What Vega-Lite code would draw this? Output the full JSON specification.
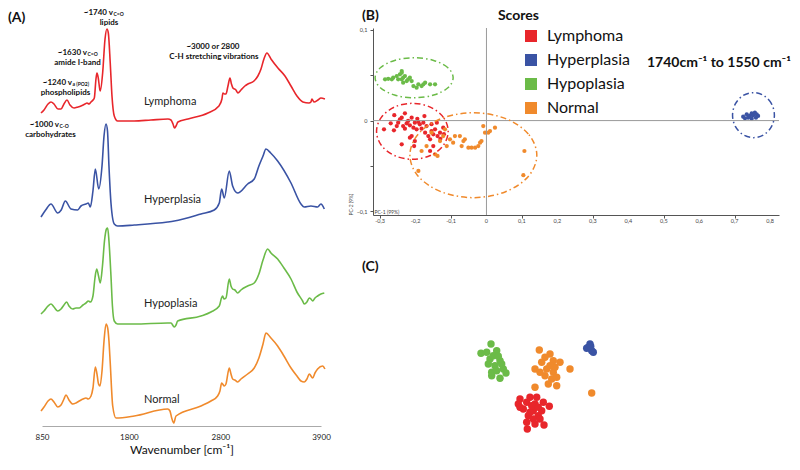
{
  "$schema": "https://vega.github.io/schema/vega-lite/v6.json",
  "padding": {"left": 7, "top": 8, "right": 2, "bottom": 2},
  "background": "white",
  "spacing": 17,
  "resolve": {"scale": {"color": "independent"}, "legend": {"color": "independent"}},
  "datasets": {
    "spectra": [
      {"s":"Lymphoma","wn":839,"a":3.13},{"s":"Lymphoma","wn":872,"a":3.16},{"s":"Lymphoma","wn":916,"a":3.22},{"s":"Lymphoma","wn":948,"a":3.24},{"s":"Lymphoma","wn":981,"a":3.22},{"s":"Lymphoma","wn":1025,"a":3.17},{"s":"Lymphoma","wn":1058,"a":3.17},{"s":"Lymphoma","wn":1090,"a":3.22},{"s":"Lymphoma","wn":1123,"a":3.26},{"s":"Lymphoma","wn":1156,"a":3.21},{"s":"Lymphoma","wn":1200,"a":3.18},{"s":"Lymphoma","wn":1243,"a":3.19},{"s":"Lymphoma","wn":1276,"a":3.20},{"s":"Lymphoma","wn":1320,"a":3.22},{"s":"Lymphoma","wn":1342,"a":3.23},{"s":"Lymphoma","wn":1364,"a":3.22},{"s":"Lymphoma","wn":1386,"a":3.24},{"s":"Lymphoma","wn":1408,"a":3.26},{"s":"Lymphoma","wn":1422,"a":3.28},{"s":"Lymphoma","wn":1440,"a":3.47},{"s":"Lymphoma","wn":1451,"a":3.53},{"s":"Lymphoma","wn":1465,"a":3.48},{"s":"Lymphoma","wn":1481,"a":3.37},{"s":"Lymphoma","wn":1487,"a":3.35},{"s":"Lymphoma","wn":1513,"a":3.53},{"s":"Lymphoma","wn":1539,"a":3.87},{"s":"Lymphoma","wn":1560,"a":3.97},{"s":"Lymphoma","wn":1575,"a":3.93},{"s":"Lymphoma","wn":1596,"a":3.63},{"s":"Lymphoma","wn":1615,"a":3.30},{"s":"Lymphoma","wn":1640,"a":3.10},{"s":"Lymphoma","wn":1677,"a":3.05},{"s":"Lymphoma","wn":1856,"a":3.05},{"s":"Lymphoma","wn":2041,"a":3.06},{"s":"Lymphoma","wn":2227,"a":3.07},{"s":"Lymphoma","wn":2260,"a":3.06},{"s":"Lymphoma","wn":2282,"a":3.02},{"s":"Lymphoma","wn":2298,"a":2.98},{"s":"Lymphoma","wn":2315,"a":3.00},{"s":"Lymphoma","wn":2336,"a":3.04},{"s":"Lymphoma","wn":2446,"a":3.07},{"s":"Lymphoma","wn":2664,"a":3.13},{"s":"Lymphoma","wn":2784,"a":3.20},{"s":"Lymphoma","wn":2817,"a":3.27},{"s":"Lymphoma","wn":2828,"a":3.33},{"s":"Lymphoma","wn":2845,"a":3.32},{"s":"Lymphoma","wn":2861,"a":3.32},{"s":"Lymphoma","wn":2883,"a":3.40},{"s":"Lymphoma","wn":2905,"a":3.48},{"s":"Lymphoma","wn":2921,"a":3.42},{"s":"Lymphoma","wn":2937,"a":3.38},{"s":"Lymphoma","wn":2970,"a":3.36},{"s":"Lymphoma","wn":2992,"a":3.33},{"s":"Lymphoma","wn":3025,"a":3.36},{"s":"Lymphoma","wn":3068,"a":3.40},{"s":"Lymphoma","wn":3101,"a":3.42},{"s":"Lymphoma","wn":3167,"a":3.45},{"s":"Lymphoma","wn":3210,"a":3.50},{"s":"Lymphoma","wn":3244,"a":3.57},{"s":"Lymphoma","wn":3276,"a":3.67},{"s":"Lymphoma","wn":3309,"a":3.73},{"s":"Lymphoma","wn":3353,"a":3.67},{"s":"Lymphoma","wn":3429,"a":3.58},{"s":"Lymphoma","wn":3506,"a":3.50},{"s":"Lymphoma","wn":3572,"a":3.40},{"s":"Lymphoma","wn":3637,"a":3.30},{"s":"Lymphoma","wn":3702,"a":3.24},{"s":"Lymphoma","wn":3768,"a":3.23},{"s":"Lymphoma","wn":3790,"a":3.24},{"s":"Lymphoma","wn":3801,"a":3.27},{"s":"Lymphoma","wn":3823,"a":3.24},{"s":"Lymphoma","wn":3867,"a":3.26},{"s":"Lymphoma","wn":3899,"a":3.28},{"s":"Lymphoma","wn":3943,"a":3.27},
      {"s":"Hyperplasia","wn":839,"a":2.09},{"s":"Hyperplasia","wn":890,"a":2.16},{"s":"Hyperplasia","wn":948,"a":2.22},{"s":"Hyperplasia","wn":1022,"a":2.13},{"s":"Hyperplasia","wn":1060,"a":2.16},{"s":"Hyperplasia","wn":1105,"a":2.25},{"s":"Hyperplasia","wn":1167,"a":2.17},{"s":"Hyperplasia","wn":1240,"a":2.16},{"s":"Hyperplasia","wn":1276,"a":2.20},{"s":"Hyperplasia","wn":1331,"a":2.22},{"s":"Hyperplasia","wn":1356,"a":2.23},{"s":"Hyperplasia","wn":1378,"a":2.19},{"s":"Hyperplasia","wn":1407,"a":2.35},{"s":"Hyperplasia","wn":1433,"a":2.57},{"s":"Hyperplasia","wn":1470,"a":2.37},{"s":"Hyperplasia","wn":1506,"a":2.60},{"s":"Hyperplasia","wn":1528,"a":2.90},{"s":"Hyperplasia","wn":1550,"a":3.02},{"s":"Hyperplasia","wn":1566,"a":2.95},{"s":"Hyperplasia","wn":1582,"a":2.60},{"s":"Hyperplasia","wn":1604,"a":2.23},{"s":"Hyperplasia","wn":1640,"a":2.02},{"s":"Hyperplasia","wn":1677,"a":2.00},{"s":"Hyperplasia","wn":1859,"a":2.01},{"s":"Hyperplasia","wn":2224,"a":2.04},{"s":"Hyperplasia","wn":2296,"a":2.05},{"s":"Hyperplasia","wn":2588,"a":2.12},{"s":"Hyperplasia","wn":2733,"a":2.16},{"s":"Hyperplasia","wn":2788,"a":2.23},{"s":"Hyperplasia","wn":2814,"a":2.37},{"s":"Hyperplasia","wn":2843,"a":2.28},{"s":"Hyperplasia","wn":2897,"a":2.55},{"s":"Hyperplasia","wn":2934,"a":2.40},{"s":"Hyperplasia","wn":2989,"a":2.33},{"s":"Hyperplasia","wn":3098,"a":2.42},{"s":"Hyperplasia","wn":3170,"a":2.47},{"s":"Hyperplasia","wn":3221,"a":2.60},{"s":"Hyperplasia","wn":3266,"a":2.70},{"s":"Hyperplasia","wn":3298,"a":2.77},{"s":"Hyperplasia","wn":3350,"a":2.73},{"s":"Hyperplasia","wn":3426,"a":2.65},{"s":"Hyperplasia","wn":3572,"a":2.43},{"s":"Hyperplasia","wn":3681,"a":2.22},{"s":"Hyperplasia","wn":3717,"a":2.19},{"s":"Hyperplasia","wn":3790,"a":2.20},{"s":"Hyperplasia","wn":3863,"a":2.19},{"s":"Hyperplasia","wn":3899,"a":2.22},{"s":"Hyperplasia","wn":3936,"a":2.17},
      {"s":"Hypoplasia","wn":839,"a":1.12},{"s":"Hypoplasia","wn":872,"a":1.15},{"s":"Hypoplasia","wn":916,"a":1.20},{"s":"Hypoplasia","wn":948,"a":1.22},{"s":"Hypoplasia","wn":981,"a":1.19},{"s":"Hypoplasia","wn":1022,"a":1.15},{"s":"Hypoplasia","wn":1058,"a":1.17},{"s":"Hypoplasia","wn":1090,"a":1.21},{"s":"Hypoplasia","wn":1120,"a":1.24},{"s":"Hypoplasia","wn":1145,"a":1.20},{"s":"Hypoplasia","wn":1186,"a":1.17},{"s":"Hypoplasia","wn":1221,"a":1.18},{"s":"Hypoplasia","wn":1258,"a":1.18},{"s":"Hypoplasia","wn":1298,"a":1.21},{"s":"Hypoplasia","wn":1331,"a":1.23},{"s":"Hypoplasia","wn":1356,"a":1.25},{"s":"Hypoplasia","wn":1380,"a":1.24},{"s":"Hypoplasia","wn":1407,"a":1.30},{"s":"Hypoplasia","wn":1429,"a":1.48},{"s":"Hypoplasia","wn":1448,"a":1.57},{"s":"Hypoplasia","wn":1468,"a":1.50},{"s":"Hypoplasia","wn":1487,"a":1.43},{"s":"Hypoplasia","wn":1511,"a":1.60},{"s":"Hypoplasia","wn":1533,"a":1.85},{"s":"Hypoplasia","wn":1555,"a":1.97},{"s":"Hypoplasia","wn":1568,"a":1.98},{"s":"Hypoplasia","wn":1582,"a":1.85},{"s":"Hypoplasia","wn":1604,"a":1.50},{"s":"Hypoplasia","wn":1620,"a":1.20},{"s":"Hypoplasia","wn":1640,"a":1.05},{"s":"Hypoplasia","wn":1677,"a":1.02},{"s":"Hypoplasia","wn":1856,"a":1.02},{"s":"Hypoplasia","wn":2224,"a":1.03},{"s":"Hypoplasia","wn":2260,"a":1.03},{"s":"Hypoplasia","wn":2296,"a":0.99},{"s":"Hypoplasia","wn":2315,"a":1.01},{"s":"Hypoplasia","wn":2333,"a":1.05},{"s":"Hypoplasia","wn":2588,"a":1.10},{"s":"Hypoplasia","wn":2697,"a":1.14},{"s":"Hypoplasia","wn":2788,"a":1.20},{"s":"Hypoplasia","wn":2812,"a":1.28},{"s":"Hypoplasia","wn":2825,"a":1.30},{"s":"Hypoplasia","wn":2839,"a":1.27},{"s":"Hypoplasia","wn":2861,"a":1.28},{"s":"Hypoplasia","wn":2897,"a":1.47},{"s":"Hypoplasia","wn":2916,"a":1.40},{"s":"Hypoplasia","wn":2934,"a":1.37},{"s":"Hypoplasia","wn":2959,"a":1.36},{"s":"Hypoplasia","wn":2989,"a":1.33},{"s":"Hypoplasia","wn":3025,"a":1.36},{"s":"Hypoplasia","wn":3098,"a":1.40},{"s":"Hypoplasia","wn":3170,"a":1.43},{"s":"Hypoplasia","wn":3221,"a":1.52},{"s":"Hypoplasia","wn":3266,"a":1.66},{"s":"Hypoplasia","wn":3317,"a":1.77},{"s":"Hypoplasia","wn":3353,"a":1.73},{"s":"Hypoplasia","wn":3426,"a":1.67},{"s":"Hypoplasia","wn":3495,"a":1.58},{"s":"Hypoplasia","wn":3572,"a":1.47},{"s":"Hypoplasia","wn":3637,"a":1.34},{"s":"Hypoplasia","wn":3699,"a":1.25},{"s":"Hypoplasia","wn":3717,"a":1.22},{"s":"Hypoplasia","wn":3746,"a":1.24},{"s":"Hypoplasia","wn":3772,"a":1.28},{"s":"Hypoplasia","wn":3790,"a":1.27},{"s":"Hypoplasia","wn":3809,"a":1.25},{"s":"Hypoplasia","wn":3834,"a":1.28},{"s":"Hypoplasia","wn":3863,"a":1.30},{"s":"Hypoplasia","wn":3899,"a":1.32},{"s":"Hypoplasia","wn":3936,"a":1.33},
      {"s":"Normal","wn":839,"a":0.15},{"s":"Normal","wn":872,"a":0.19},{"s":"Normal","wn":916,"a":0.25},{"s":"Normal","wn":948,"a":0.27},{"s":"Normal","wn":981,"a":0.24},{"s":"Normal","wn":1022,"a":0.19},{"s":"Normal","wn":1058,"a":0.21},{"s":"Normal","wn":1090,"a":0.27},{"s":"Normal","wn":1112,"a":0.31},{"s":"Normal","wn":1145,"a":0.26},{"s":"Normal","wn":1186,"a":0.22},{"s":"Normal","wn":1221,"a":0.23},{"s":"Normal","wn":1258,"a":0.25},{"s":"Normal","wn":1298,"a":0.27},{"s":"Normal","wn":1331,"a":0.28},{"s":"Normal","wn":1356,"a":0.27},{"s":"Normal","wn":1386,"a":0.30},{"s":"Normal","wn":1407,"a":0.38},{"s":"Normal","wn":1433,"a":0.59},{"s":"Normal","wn":1451,"a":0.52},{"s":"Normal","wn":1468,"a":0.42},{"s":"Normal","wn":1484,"a":0.40},{"s":"Normal","wn":1506,"a":0.55},{"s":"Normal","wn":1528,"a":0.85},{"s":"Normal","wn":1550,"a":1.02},{"s":"Normal","wn":1568,"a":0.98},{"s":"Normal","wn":1582,"a":0.85},{"s":"Normal","wn":1596,"a":0.63},{"s":"Normal","wn":1623,"a":0.20},{"s":"Normal","wn":1659,"a":0.08},{"s":"Normal","wn":1859,"a":0.10},{"s":"Normal","wn":2224,"a":0.17},{"s":"Normal","wn":2249,"a":0.15},{"s":"Normal","wn":2268,"a":0.08},{"s":"Normal","wn":2290,"a":0.03},{"s":"Normal","wn":2315,"a":0.10},{"s":"Normal","wn":2588,"a":0.20},{"s":"Normal","wn":2697,"a":0.25},{"s":"Normal","wn":2770,"a":0.30},{"s":"Normal","wn":2795,"a":0.35},{"s":"Normal","wn":2814,"a":0.43},{"s":"Normal","wn":2843,"a":0.40},{"s":"Normal","wn":2861,"a":0.42},{"s":"Normal","wn":2897,"a":0.58},{"s":"Normal","wn":2916,"a":0.52},{"s":"Normal","wn":2934,"a":0.47},{"s":"Normal","wn":2959,"a":0.46},{"s":"Normal","wn":2989,"a":0.44},{"s":"Normal","wn":3025,"a":0.47},{"s":"Normal","wn":3098,"a":0.52},{"s":"Normal","wn":3170,"a":0.58},{"s":"Normal","wn":3221,"a":0.68},{"s":"Normal","wn":3266,"a":0.82},{"s":"Normal","wn":3298,"a":0.93},{"s":"Normal","wn":3353,"a":0.88},{"s":"Normal","wn":3426,"a":0.80},{"s":"Normal","wn":3495,"a":0.70},{"s":"Normal","wn":3572,"a":0.58},{"s":"Normal","wn":3637,"a":0.50},{"s":"Normal","wn":3681,"a":0.45},{"s":"Normal","wn":3717,"a":0.44},{"s":"Normal","wn":3746,"a":0.47},{"s":"Normal","wn":3772,"a":0.52},{"s":"Normal","wn":3809,"a":0.48},{"s":"Normal","wn":3834,"a":0.53},{"s":"Normal","wn":3863,"a":0.57},{"s":"Normal","wn":3918,"a":0.60},{"s":"Normal","wn":3943,"a":0.57}
    ],
    "a_text": [
      {"role":"panel","wn":478,"a":4.08,"t":"(A)"},
      {"role":"main","wn":1626,"a":4.133,"t":"~1740 v"},
      {"role":"main","wn":1342,"a":3.733,"t":"~1630 v"},
      {"role":"main","wn":1178,"a":3.43,"t":"~1240 v"},
      {"role":"main","wn":1036,"a":3.01,"t":"~1000 v"},
      {"role":"sub","wn":1626,"a":4.12,"t":"C=O"},
      {"role":"sub","wn":1342,"a":3.72,"t":"C=O"},
      {"role":"sub","wn":1178,"a":3.42,"t":"a (PO2)"},
      {"role":"sub","wn":1036,"a":3.0,"t":"C-O"},
      {"role":"line2","wn":1582,"a":4.033,"t":"lipids"},
      {"role":"line2","wn":1238,"a":3.633,"t":"amide I-band"},
      {"role":"line2","wn":1107,"a":3.33,"t":"phospholipids"},
      {"role":"line2","wn":943,"a":2.91,"t":"carbohydrates"},
      {"role":"line2","wn":2719,"a":3.79,"t":"~3000 or 2800"},
      {"role":"line2","wn":2730,"a":3.69,"t":"C-H stretching vibrations"},
      {"role":"sample","wn":1965,"a":3.24,"t":"Lymphoma"},
      {"role":"sample","wn":1965,"a":2.26,"t":"Hyperplasia"},
      {"role":"sample","wn":1965,"a":1.22,"t":"Hypoplasia"},
      {"role":"sample","wn":1965,"a":0.26,"t":"Normal"}
    ],
    "scores": [
      {"g":"Lymphoma","pc1":-0.289,"pc2":-0.0096},{"g":"Lymphoma","pc1":-0.261,"pc2":-0.0107},{"g":"Lymphoma","pc1":-0.253,"pc2":-0.006},{"g":"Lymphoma","pc1":-0.249,"pc2":-0.0023},{"g":"Lymphoma","pc1":-0.244,"pc2":0.0014},{"g":"Lymphoma","pc1":-0.239,"pc2":0.0032},{"g":"Lymphoma","pc1":-0.235,"pc2":-0.006},{"g":"Lymphoma","pc1":-0.23,"pc2":-0.0089},{"g":"Lymphoma","pc1":-0.225,"pc2":-0.003},{"g":"Lymphoma","pc1":-0.221,"pc2":-0.0004},{"g":"Lymphoma","pc1":-0.216,"pc2":-0.0052},{"g":"Lymphoma","pc1":-0.211,"pc2":0.0032},{"g":"Lymphoma","pc1":-0.206,"pc2":-0.0078},{"g":"Lymphoma","pc1":-0.202,"pc2":-0.0023},{"g":"Lymphoma","pc1":-0.197,"pc2":-0.0096},{"g":"Lymphoma","pc1":-0.192,"pc2":-0.0015},{"g":"Lymphoma","pc1":-0.188,"pc2":-0.0041},{"g":"Lymphoma","pc1":-0.183,"pc2":-0.0089},{"g":"Lymphoma","pc1":-0.178,"pc2":-0.0023},{"g":"Lymphoma","pc1":-0.173,"pc2":-0.0133},{"g":"Lymphoma","pc1":-0.169,"pc2":-0.006},{"g":"Lymphoma","pc1":-0.164,"pc2":-0.017},{"g":"Lymphoma","pc1":-0.159,"pc2":-0.0206},{"g":"Lymphoma","pc1":-0.155,"pc2":-0.0115},{"g":"Lymphoma","pc1":-0.15,"pc2":-0.0151},{"g":"Lymphoma","pc1":-0.145,"pc2":-0.0096},{"g":"Lymphoma","pc1":-0.14,"pc2":-0.0023},{"g":"Lymphoma","pc1":-0.138,"pc2":-0.017},{"g":"Lymphoma","pc1":-0.131,"pc2":-0.0133},{"g":"Lymphoma","pc1":-0.122,"pc2":-0.0078},{"g":"Lymphoma","pc1":-0.216,"pc2":-0.0188},{"g":"Lymphoma","pc1":-0.211,"pc2":-0.017},{"g":"Lymphoma","pc1":-0.202,"pc2":-0.0225},{"g":"Lymphoma","pc1":-0.239,"pc2":-0.0261},{"g":"Lymphoma","pc1":-0.204,"pc2":-0.028},{"g":"Lymphoma","pc1":-0.159,"pc2":-0.0335},{"g":"Lymphoma","pc1":-0.15,"pc2":-0.028},{"g":"Lymphoma","pc1":-0.27,"pc2":-0.003},{"g":"Lymphoma","pc1":-0.26,"pc2":0.006},{"g":"Lymphoma","pc1":-0.23,"pc2":0.008},{"g":"Lymphoma","pc1":-0.195,"pc2":0.002},{"g":"Lymphoma","pc1":-0.175,"pc2":0.005},{"g":"Lymphoma","pc1":-0.155,"pc2":-0.004},{"g":"Lymphoma","pc1":-0.13,"pc2":-0.02},{"g":"Lymphoma","pc1":-0.12,"pc2":-0.015},
      {"g":"Normal","pc1":-0.192,"pc2":-0.0555},{"g":"Normal","pc1":-0.183,"pc2":-0.0335},{"g":"Normal","pc1":-0.169,"pc2":-0.028},{"g":"Normal","pc1":-0.155,"pc2":-0.0133},{"g":"Normal","pc1":-0.145,"pc2":-0.0371},{"g":"Normal","pc1":-0.138,"pc2":-0.039},{"g":"Normal","pc1":-0.131,"pc2":-0.0225},{"g":"Normal","pc1":-0.122,"pc2":-0.017},{"g":"Normal","pc1":-0.117,"pc2":-0.0096},{"g":"Normal","pc1":-0.112,"pc2":-0.028},{"g":"Normal","pc1":-0.103,"pc2":-0.0206},{"g":"Normal","pc1":-0.094,"pc2":-0.0243},{"g":"Normal","pc1":-0.089,"pc2":-0.017},{"g":"Normal","pc1":-0.075,"pc2":-0.017},{"g":"Normal","pc1":-0.065,"pc2":-0.0225},{"g":"Normal","pc1":-0.07,"pc2":-0.028},{"g":"Normal","pc1":-0.061,"pc2":-0.0206},{"g":"Normal","pc1":-0.051,"pc2":-0.0298},{"g":"Normal","pc1":-0.042,"pc2":-0.0298},{"g":"Normal","pc1":-0.032,"pc2":-0.0298},{"g":"Normal","pc1":-0.023,"pc2":-0.028},{"g":"Normal","pc1":-0.018,"pc2":-0.0243},{"g":"Normal","pc1":-0.014,"pc2":-0.0225},{"g":"Normal","pc1":-0.009,"pc2":-0.006},{"g":"Normal","pc1":-0.004,"pc2":-0.0133},{"g":"Normal","pc1":0.005,"pc2":-0.0133},{"g":"Normal","pc1":0.01,"pc2":-0.0115},{"g":"Normal","pc1":0.024,"pc2":-0.0078},{"g":"Normal","pc1":0.107,"pc2":-0.0335},{"g":"Normal","pc1":0.104,"pc2":-0.0602},
      {"g":"Hypoplasia","pc1":-0.286,"pc2":0.0455},{"g":"Hypoplasia","pc1":-0.277,"pc2":0.046},{"g":"Hypoplasia","pc1":-0.267,"pc2":0.0455},{"g":"Hypoplasia","pc1":-0.263,"pc2":0.0473},{"g":"Hypoplasia","pc1":-0.253,"pc2":0.049},{"g":"Hypoplasia","pc1":-0.244,"pc2":0.051},{"g":"Hypoplasia","pc1":-0.239,"pc2":0.0546},{"g":"Hypoplasia","pc1":-0.239,"pc2":0.0455},{"g":"Hypoplasia","pc1":-0.235,"pc2":0.0473},{"g":"Hypoplasia","pc1":-0.235,"pc2":0.0417},{"g":"Hypoplasia","pc1":-0.23,"pc2":0.049},{"g":"Hypoplasia","pc1":-0.225,"pc2":0.0436},{"g":"Hypoplasia","pc1":-0.221,"pc2":0.0455},{"g":"Hypoplasia","pc1":-0.216,"pc2":0.0473},{"g":"Hypoplasia","pc1":-0.211,"pc2":0.0436},{"g":"Hypoplasia","pc1":-0.206,"pc2":0.0381},{"g":"Hypoplasia","pc1":-0.197,"pc2":0.0362},{"g":"Hypoplasia","pc1":-0.192,"pc2":0.04},{"g":"Hypoplasia","pc1":-0.183,"pc2":0.0381},{"g":"Hypoplasia","pc1":-0.178,"pc2":0.04},{"g":"Hypoplasia","pc1":-0.173,"pc2":0.0417},{"g":"Hypoplasia","pc1":-0.159,"pc2":0.04},{"g":"Hypoplasia","pc1":-0.145,"pc2":0.04},{"g":"Hypoplasia","pc1":-0.239,"pc2":0.0527},{"g":"Hypoplasia","pc1":-0.249,"pc2":0.0455},
      {"g":"Hyperplasia","pc1":0.724,"pc2":0.0043},{"g":"Hyperplasia","pc1":0.734,"pc2":0.0069},{"g":"Hyperplasia","pc1":0.743,"pc2":0.0051},{"g":"Hyperplasia","pc1":0.748,"pc2":0.008},{"g":"Hyperplasia","pc1":0.752,"pc2":0.0058},{"g":"Hyperplasia","pc1":0.757,"pc2":0.0087},{"g":"Hyperplasia","pc1":0.762,"pc2":0.0069},{"g":"Hyperplasia","pc1":0.766,"pc2":0.0051},{"g":"Hyperplasia","pc1":0.748,"pc2":0.0021},{"g":"Hyperplasia","pc1":0.738,"pc2":0.0032},{"g":"Hyperplasia","pc1":0.76,"pc2":0.0032},{"g":"Hyperplasia","pc1":0.729,"pc2":0.0025}
    ],
    "ellipses": [
      {"eg":"Hypoplasia","k":0,"pc1":-0.094,"pc2":0.0472},{"eg":"Hypoplasia","k":1,"pc1":-0.1087,"pc2":0.0582},{"eg":"Hypoplasia","k":2,"pc1":-0.149,"pc2":0.0663},{"eg":"Hypoplasia","k":3,"pc1":-0.204,"pc2":0.0692},{"eg":"Hypoplasia","k":4,"pc1":-0.259,"pc2":0.0663},{"eg":"Hypoplasia","k":5,"pc1":-0.2993,"pc2":0.0582},{"eg":"Hypoplasia","k":6,"pc1":-0.314,"pc2":0.0472},{"eg":"Hypoplasia","k":7,"pc1":-0.2993,"pc2":0.0362},{"eg":"Hypoplasia","k":8,"pc1":-0.259,"pc2":0.0281},{"eg":"Hypoplasia","k":9,"pc1":-0.204,"pc2":0.0252},{"eg":"Hypoplasia","k":10,"pc1":-0.149,"pc2":0.0281},{"eg":"Hypoplasia","k":11,"pc1":-0.1087,"pc2":0.0362},
      {"eg":"Lymphoma","k":0,"pc1":-0.108,"pc2":-0.0118},{"eg":"Lymphoma","k":1,"pc1":-0.1215,"pc2":0.0036},{"eg":"Lymphoma","k":2,"pc1":-0.1585,"pc2":0.0149},{"eg":"Lymphoma","k":3,"pc1":-0.209,"pc2":0.019},{"eg":"Lymphoma","k":4,"pc1":-0.2595,"pc2":0.0149},{"eg":"Lymphoma","k":5,"pc1":-0.2965,"pc2":0.0036},{"eg":"Lymphoma","k":6,"pc1":-0.31,"pc2":-0.0118},{"eg":"Lymphoma","k":7,"pc1":-0.2965,"pc2":-0.0272},{"eg":"Lymphoma","k":8,"pc1":-0.2595,"pc2":-0.0385},{"eg":"Lymphoma","k":9,"pc1":-0.209,"pc2":-0.0426},{"eg":"Lymphoma","k":10,"pc1":-0.1585,"pc2":-0.0385},{"eg":"Lymphoma","k":11,"pc1":-0.1215,"pc2":-0.0272},
      {"eg":"Normal","k":0,"pc1":0.142,"pc2":-0.0381},{"eg":"Normal","k":1,"pc1":0.118,"pc2":-0.0147},{"eg":"Normal","k":2,"pc1":0.0525,"pc2":0.0024},{"eg":"Normal","k":3,"pc1":-0.037,"pc2":0.0087},{"eg":"Normal","k":4,"pc1":-0.1265,"pc2":0.0024},{"eg":"Normal","k":5,"pc1":-0.192,"pc2":-0.0147},{"eg":"Normal","k":6,"pc1":-0.216,"pc2":-0.0381},{"eg":"Normal","k":7,"pc1":-0.192,"pc2":-0.0615},{"eg":"Normal","k":8,"pc1":-0.1265,"pc2":-0.0786},{"eg":"Normal","k":9,"pc1":-0.037,"pc2":-0.0849},{"eg":"Normal","k":10,"pc1":0.0525,"pc2":-0.0786},{"eg":"Normal","k":11,"pc1":0.118,"pc2":-0.0615},
      {"eg":"Hyperplasia","k":0,"pc1":0.812,"pc2":0.006},{"eg":"Hyperplasia","k":1,"pc1":0.8041,"pc2":0.0184},{"eg":"Hyperplasia","k":2,"pc1":0.7825,"pc2":0.0275},{"eg":"Hyperplasia","k":3,"pc1":0.753,"pc2":0.0308},{"eg":"Hyperplasia","k":4,"pc1":0.7235,"pc2":0.0275},{"eg":"Hyperplasia","k":5,"pc1":0.7019,"pc2":0.0184},{"eg":"Hyperplasia","k":6,"pc1":0.694,"pc2":0.006},{"eg":"Hyperplasia","k":7,"pc1":0.7019,"pc2":-0.0064},{"eg":"Hyperplasia","k":8,"pc1":0.7235,"pc2":-0.0155},{"eg":"Hyperplasia","k":9,"pc1":0.753,"pc2":-0.0188},{"eg":"Hyperplasia","k":10,"pc1":0.7825,"pc2":-0.0155},{"eg":"Hyperplasia","k":11,"pc1":0.8041,"pc2":-0.0064}
    ],
    "b_text": [
      {"role":"panel","pc1":-0.351,"pc2":0.1152,"t":"(B)"},
      {"role":"title","pc1":0.0324,"pc2":0.1157,"t":"Scores"},
      {"role":"note","pc1":0.4526,"pc2":0.0638,"t":"1740cm⁻¹ to 1550 cm⁻¹"}
    ],
    "b_xlabels": [
      {"pc1":-0.3,"pc2":-0.104,"t":"-0,3"},{"pc1":-0.2,"pc2":-0.104,"t":"-0,2"},{"pc1":-0.1,"pc2":-0.104,"t":"-0,1"},{"pc1":0,"pc2":-0.104,"t":"0"},
      {"pc1":0.1,"pc2":-0.104,"t":"0,1"},{"pc1":0.2,"pc2":-0.104,"t":"0,2"},{"pc1":0.3,"pc2":-0.104,"t":"0,3"},{"pc1":0.4,"pc2":-0.104,"t":"0,4"},
      {"pc1":0.5,"pc2":-0.104,"t":"0,5"},{"pc1":0.6,"pc2":-0.104,"t":"0,6"},{"pc1":0.7,"pc2":-0.104,"t":"0,7"},{"pc1":0.8,"pc2":-0.104,"t":"0,8"}
    ],
    "clusters": [
      {"cg":"Hypoplasia","c1":7.1,"c2":9.5},{"cg":"Hypoplasia","c1":6.1,"c2":8.57},{"cg":"Hypoplasia","c1":6.67,"c2":8.67},{"cg":"Hypoplasia","c1":7.67,"c2":8.83},{"cg":"Hypoplasia","c1":7.0,"c2":8.0},{"cg":"Hypoplasia","c1":8.0,"c2":7.83},{"cg":"Hypoplasia","c1":7.5,"c2":7.33},{"cg":"Hypoplasia","c1":8.33,"c2":7.0},{"cg":"Hypoplasia","c1":7.17,"c2":6.67},{"cg":"Hypoplasia","c1":8.6,"c2":6.6},{"cg":"Hypoplasia","c1":8.0,"c2":6.07},{"cg":"Hypoplasia","c1":7.17,"c2":6.33},{"cg":"Hypoplasia","c1":7.67,"c2":6.83},{"cg":"Hypoplasia","c1":6.83,"c2":7.5},{"cg":"Hypoplasia","c1":8.17,"c2":7.5},{"cg":"Hypoplasia","c1":7.33,"c2":8.33},{"cg":"Hypoplasia","c1":7.83,"c2":8.27},
      {"cg":"Normal","c1":11.93,"c2":8.9},{"cg":"Normal","c1":13.0,"c2":8.5},{"cg":"Normal","c1":12.5,"c2":8.17},{"cg":"Normal","c1":12.17,"c2":7.67},{"cg":"Normal","c1":13.33,"c2":7.83},{"cg":"Normal","c1":14.0,"c2":7.67},{"cg":"Normal","c1":11.5,"c2":7.0},{"cg":"Normal","c1":12.67,"c2":7.0},{"cg":"Normal","c1":13.33,"c2":6.67},{"cg":"Normal","c1":15.0,"c2":7.0},{"cg":"Normal","c1":12.5,"c2":6.33},{"cg":"Normal","c1":13.17,"c2":6.0},{"cg":"Normal","c1":12.83,"c2":5.5},{"cg":"Normal","c1":13.67,"c2":5.33},{"cg":"Normal","c1":11.5,"c2":5.17},{"cg":"Normal","c1":17.17,"c2":4.6},{"cg":"Normal","c1":13.5,"c2":7.17},{"cg":"Normal","c1":13.0,"c2":7.33},{"cg":"Normal","c1":12.0,"c2":6.67},{"cg":"Normal","c1":13.67,"c2":6.17},
      {"cg":"Hyperplasia","c1":17.0,"c2":9.5},{"cg":"Hyperplasia","c1":16.83,"c2":9.17},{"cg":"Hyperplasia","c1":17.17,"c2":8.83},{"cg":"Hyperplasia","c1":17.33,"c2":8.67},{"cg":"Hyperplasia","c1":16.67,"c2":9.07},{"cg":"Hyperplasia","c1":17.07,"c2":9.27},
      {"cg":"Lymphoma","c1":10.0,"c2":4.0},{"cg":"Lymphoma","c1":11.0,"c2":4.17},{"cg":"Lymphoma","c1":11.67,"c2":4.17},{"cg":"Lymphoma","c1":9.83,"c2":3.5},{"cg":"Lymphoma","c1":10.67,"c2":3.67},{"cg":"Lymphoma","c1":11.5,"c2":3.5},{"cg":"Lymphoma","c1":12.33,"c2":3.67},{"cg":"Lymphoma","c1":12.93,"c2":3.27},{"cg":"Lymphoma","c1":10.33,"c2":3.0},{"cg":"Lymphoma","c1":11.33,"c2":2.83},{"cg":"Lymphoma","c1":12.17,"c2":2.83},{"cg":"Lymphoma","c1":10.83,"c2":2.33},{"cg":"Lymphoma","c1":11.83,"c2":2.33},{"cg":"Lymphoma","c1":11.33,"c2":2.0},{"cg":"Lymphoma","c1":10.67,"c2":1.67},{"cg":"Lymphoma","c1":11.5,"c2":1.5},{"cg":"Lymphoma","c1":12.4,"c2":1.4},{"cg":"Lymphoma","c1":10.73,"c2":1.0},{"cg":"Lymphoma","c1":11.0,"c2":2.67},{"cg":"Lymphoma","c1":12.0,"c2":2.0},{"cg":"Lymphoma","c1":10.0,"c2":3.17},{"cg":"Lymphoma","c1":11.17,"c2":3.33},{"cg":"Lymphoma","c1":11.83,"c2":3.17}
    ],
    "c_text": [
      {"c1":-5.8,"c2":17.2,"t":"(C)"}
    ]
  },
  "hconcat": [
    {
      "width": 279,
      "height": 398,
      "layer": [
        {
          "data": {"name": "spectra"},
          "mark": {"type": "line", "strokeWidth": 1.6, "interpolate": "monotone"},
          "encoding": {
            "x": {"field": "wn", "type": "quantitative", "scale": {"domain": [850, 3900], "nice": false, "zero": false},
                  "axis": {"values": [850, 1800, 2800, 3900], "format": "d", "labelFlush": false, "title": "Wavenumber [cm⁻¹]", "grid": false, "ticks": false, "domainColor": "#aaaaaa", "labelFontSize": 8, "labelPadding": 7, "labelColor": "#222222", "titleFontSize": 12, "titleFontWeight": "normal", "titlePadding": 3, "titleColor": "#111111"}},
            "y": {"field": "a", "type": "quantitative", "scale": {"domain": [0, 3.98], "nice": false, "zero": false}, "axis": null},
            "stroke": {"field": "s", "type": "nominal", "scale": {"domain": ["Lymphoma", "Hyperplasia", "Hypoplasia", "Normal"], "range": ["#E8262B", "#3A53A4", "#6BBB48", "#F08A2C"]}, "legend": null}
          }
        },
        {
          "data": {"name": "a_text"},
          "transform": [{"filter": "datum.role === 'panel'"}],
          "mark": {"type": "text", "align": "left", "fontSize": 14, "fontWeight": "bold", "color": "#111111"},
          "encoding": {"x": {"field": "wn", "type": "quantitative"}, "y": {"field": "a", "type": "quantitative"}, "text": {"field": "t", "type": "nominal"}}
        },
        {
          "data": {"name": "a_text"},
          "transform": [{"filter": "datum.role === 'main'"}],
          "mark": {"type": "text", "align": "right", "fontSize": 8, "fontWeight": "bold", "color": "#111111"},
          "encoding": {"x": {"field": "wn", "type": "quantitative"}, "y": {"field": "a", "type": "quantitative"}, "text": {"field": "t", "type": "nominal"}}
        },
        {
          "data": {"name": "a_text"},
          "transform": [{"filter": "datum.role === 'sub'"}],
          "mark": {"type": "text", "align": "left", "fontSize": 5, "fontWeight": "bold", "dx": 0.5, "color": "#111111"},
          "encoding": {"x": {"field": "wn", "type": "quantitative"}, "y": {"field": "a", "type": "quantitative"}, "text": {"field": "t", "type": "nominal"}}
        },
        {
          "data": {"name": "a_text"},
          "transform": [{"filter": "datum.role === 'line2'"}],
          "mark": {"type": "text", "align": "center", "fontSize": 8, "fontWeight": "bold", "color": "#111111"},
          "encoding": {"x": {"field": "wn", "type": "quantitative"}, "y": {"field": "a", "type": "quantitative"}, "text": {"field": "t", "type": "nominal"}}
        },
        {
          "data": {"name": "a_text"},
          "transform": [{"filter": "datum.role === 'sample'"}],
          "mark": {"type": "text", "align": "left", "fontSize": 11, "color": "#222222"},
          "encoding": {"x": {"field": "wn", "type": "quantitative"}, "y": {"field": "a", "type": "quantitative"}, "text": {"field": "t", "type": "nominal"}}
        }
      ]
    },
    {
      "spacing": 21,
      "resolve": {"scale": {"color": "independent"}, "legend": {"color": "independent"}},
      "vconcat": [
        {
          "width": 406,
          "height": 187,
          "layer": [
            {
              "data": {"name": "scores"},
              "mark": {"type": "point", "filled": true, "size": 18, "opacity": 1},
              "encoding": {
                "x": {"field": "pc1", "type": "quantitative", "scale": {"domain": [-0.32, 0.825], "nice": false, "zero": false},
                      "axis": {"title": "PC-1 (99%)", "values": [-0.3,-0.25,-0.2,-0.15,-0.1,-0.05,0,0.05,0.1,0.15,0.2,0.25,0.3,0.35,0.4,0.45,0.5,0.55,0.6,0.65,0.7,0.75,0.8],
                               "labels": false,
                               "grid": false, "tickSize": 3, "tickColor": "#555555", "domainColor": "#555555",
                               "titleFontSize": 5, "titleFontWeight": "normal", "titleAnchor": "start", "titleAlign": "left", "titleBaseline": "alphabetic", "titleX": 1, "titleY": -1.5, "titleColor": "#444444"}},
                "y": {"field": "pc2", "type": "quantitative", "scale": {"domain": [-0.104, 0.102], "nice": false, "zero": false},
                      "axis": {"title": "PC-2 (9%)", "values": [-0.1, -0.05, 0, 0.05, 0.1],
                               "labelExpr": "abs(datum.value) < 1e-9 ? '0' : (abs(round(datum.value*20)) % 2 == 1 ? '' : replace(format(datum.value, '.1f'), '.', ','))",
                               "labelOverlap": false, "labelFlush": false, "labelBound": false,
                               "grid": false, "tickSize": 3, "tickColor": "#555555", "domainColor": "#555555", "labelFontSize": 5.5, "labelPadding": 3, "labelColor": "#444444",
                               "titleFontSize": 5, "titleFontWeight": "normal", "titleAnchor": "start", "titleColor": "#444444", "titlePadding": 3}},
                "color": {"field": "g", "type": "nominal", "scale": {"domain": ["Lymphoma", "Hyperplasia", "Hypoplasia", "Normal"], "range": ["#E8262B", "#3A53A4", "#6BBB48", "#F08A2C"]},
                          "legend": {"title": null, "orient": "none", "legendX": 150, "legendY": 0, "symbolType": "square", "symbolSize": 144, "symbolStrokeWidth": 0, "symbolOpacity": 1, "labelFontSize": 16, "labelFont": "Lato", "labelColor": "#111111", "rowPadding": 8, "labelOffset": 8, "padding": 0}}
              }
            },
            {
              "data": {"values": [{}]},
              "mark": {"type": "rule", "color": "#9a9a9a", "strokeWidth": 1},
              "encoding": {"y": {"datum": 0, "type": "quantitative"}}
            },
            {
              "data": {"values": [{}]},
              "mark": {"type": "rule", "color": "#9a9a9a", "strokeWidth": 1},
              "encoding": {"x": {"datum": 0, "type": "quantitative"}}
            },
            {
              "data": {"name": "ellipses"},
              "mark": {"type": "line", "interpolate": "cardinal-closed", "strokeWidth": 1.5, "strokeDash": [6, 3, 1.5, 3]},
              "encoding": {
                "x": {"field": "pc1", "type": "quantitative"},
                "y": {"field": "pc2", "type": "quantitative"},
                "stroke": {"field": "eg", "type": "nominal", "scale": {"domain": ["Lymphoma", "Hyperplasia", "Hypoplasia", "Normal"], "range": ["#E8262B", "#3A53A4", "#6BBB48", "#F08A2C"]}, "legend": null},
                "order": {"field": "k", "type": "quantitative"}
              }
            },
            {
              "data": {"name": "b_xlabels"},
              "mark": {"type": "text", "align": "center", "baseline": "alphabetic", "dy": 8, "fontSize": 5.5, "color": "#444444"},
              "encoding": {"x": {"field": "pc1", "type": "quantitative"}, "y": {"field": "pc2", "type": "quantitative"}, "text": {"field": "t", "type": "nominal"}}
            },
            {
              "data": {"name": "b_text"},
              "transform": [{"filter": "datum.role === 'panel'"}],
              "mark": {"type": "text", "align": "left", "fontSize": 14, "fontWeight": "bold", "color": "#111111"},
              "encoding": {"x": {"field": "pc1", "type": "quantitative"}, "y": {"field": "pc2", "type": "quantitative"}, "text": {"field": "t", "type": "nominal"}}
            },
            {
              "data": {"name": "b_text"},
              "transform": [{"filter": "datum.role === 'title'"}],
              "mark": {"type": "text", "align": "left", "fontSize": 14, "fontWeight": "bold", "color": "#111111"},
              "encoding": {"x": {"field": "pc1", "type": "quantitative"}, "y": {"field": "pc2", "type": "quantitative"}, "text": {"field": "t", "type": "nominal"}}
            },
            {
              "data": {"name": "b_text"},
              "transform": [{"filter": "datum.role === 'note'"}],
              "mark": {"type": "text", "align": "left", "fontSize": 14, "fontWeight": "bold", "color": "#111111"},
              "encoding": {"x": {"field": "pc1", "type": "quantitative"}, "y": {"field": "pc2", "type": "quantitative"}, "text": {"field": "t", "type": "nominal"}}
            }
          ]
        },
        {
          "width": 406,
          "height": 195,
          "view": {"stroke": "transparent"},
          "layer": [
            {
              "data": {"name": "clusters"},
              "mark": {"type": "point", "filled": true, "size": 55, "opacity": 1},
              "encoding": {
                "x": {"field": "c1", "type": "quantitative", "scale": {"domain": [-4.7, 35.9], "nice": false, "zero": false}, "axis": null},
                "y": {"field": "c2", "type": "quantitative", "scale": {"domain": [-0.3, 19.2], "nice": false, "zero": false}, "axis": null},
                "fill": {"field": "cg", "type": "nominal", "scale": {"domain": ["Lymphoma", "Hyperplasia", "Hypoplasia", "Normal"], "range": ["#E8262B", "#3A53A4", "#6BBB48", "#F08A2C"]}, "legend": null}
              }
            },
            {
              "data": {"name": "c_text"},
              "mark": {"type": "text", "align": "left", "fontSize": 14, "fontWeight": "bold", "color": "#111111"},
              "encoding": {"x": {"field": "c1", "type": "quantitative"}, "y": {"field": "c2", "type": "quantitative"}, "text": {"field": "t", "type": "nominal"}}
            }
          ]
        }
      ]
    }
  ],
  "config": {
    "font": "Lato",
    "view": {"stroke": null},
    "axis": {"labelFont": "Lato", "titleFont": "Lato", "labelOverlap": false, "labelBound": false},
    "text": {"font": "Lato"}
  }
}
